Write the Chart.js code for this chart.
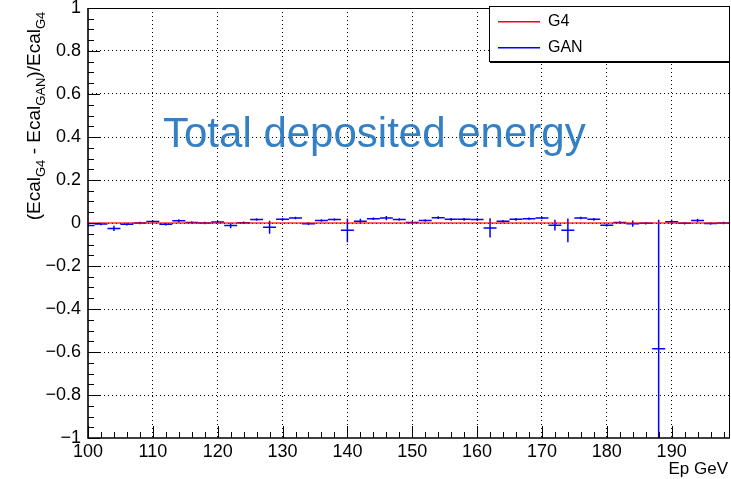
<!DOCTYPE html>
<html>
<head>
<meta charset="utf-8">
<script src="https://cdn.jsdelivr.net/npm/chart.js@4/dist/chart.umd.min.js"></script>
<style>
  html, body { margin: 0; padding: 0; background: #ffffff; }
  #wrap { width: 731px; height: 479px; position: relative; }
</style>
</head>
<body>
<div id="wrap"><canvas id="c" width="731" height="479"></canvas></div>
<script>
// ---- data ----
const binCenters = [100,102,104,106,108,110,112,114,116,118,120,122,124,126,128,130,132,134,136,138,140,142,144,146,148,150,152,154,156,158,160,162,164,166,168,170,172,174,176,178,180,182,184,186,188,190,192,194,196,198];
const binHalfWidth = 1;
const g4Values = [0,0,0,0,0,0,0,0,0,0,0,0,0,0,0,0,0,0,0,0,0,0,0,0,0,0,0,0,0,0,0,0,0,0,0,0,0,0,0,0,0,0,0,0,0,0,0,0,0,0];
const ganValues = [-0.012,-0.005,-0.025,-0.006,0.0,0.007,-0.006,0.010,0.002,0.0,0.005,-0.012,0.001,0.016,-0.020,0.017,0.023,-0.003,0.012,0.016,-0.034,0.008,0.020,0.023,0.016,0.002,0.012,0.025,0.017,0.017,0.016,-0.023,0.008,0.017,0.020,0.023,-0.010,-0.034,0.023,0.017,-0.010,0.002,-0.003,-0.001,-0.585,0.006,-0.001,0.012,-0.002,0.0];
const ganErrors = [0.008,0.006,0.012,0.006,0.006,0.006,0.006,0.008,0.006,0.006,0.006,0.012,0.006,0.006,0.030,0.006,0.006,0.006,0.006,0.006,0.055,0.012,0.006,0.010,0.006,0.006,0.006,0.006,0.006,0.006,0.006,0.045,0.006,0.006,0.006,0.006,0.025,0.055,0.006,0.006,0.006,0.006,0.015,0.006,0.600,0.010,0.006,0.008,0.006,0.006];
const seriesLabels = ["G4", "GAN"];
const seriesColors = ["rgb(255,0,0)", "rgb(0,0,255)"];
const xTickLabels = ["100","110","120","130","140","150","160","170","180","190"];
const yTickLabels = ["\u22121","\u22120.8","\u22120.6","\u22120.4","\u22120.2","0","0.2","0.4","0.6","0.8","1"];
const plotText = "Total deposited energy";
const xTitle = "Ep GeV";

const FONT = '"Liberation Sans", Arial, Helvetica, sans-serif';

const ganData = binCenters.map((x, i) => ({x: x, y: ganValues[i], xerr: binHalfWidth, yerr: ganErrors[i]}));
const g4Data = binCenters.map((x, i) => ({x: x, y: g4Values[i], xerr: binHalfWidth, yerr: 0}));

const errorBarPlugin = {
  id: 'errorBars',
  afterDatasetsDraw(chart) {
    const {ctx, chartArea: a, scales: {x, y}} = chart;
    ctx.save();
    ctx.beginPath();
    ctx.rect(a.left, a.top, a.right - a.left, a.bottom - a.top);
    ctx.clip();
    chart.data.datasets.forEach(ds => {
      ctx.strokeStyle = ds.borderColor;
      ctx.lineWidth = ds.errLineWidth;
      ds.data.forEach(p => {
        const px = x.getPixelForValue(p.x);
        const py = y.getPixelForValue(p.y);
        ctx.beginPath();
        ctx.moveTo(x.getPixelForValue(p.x - p.xerr), py);
        ctx.lineTo(x.getPixelForValue(p.x + p.xerr), py);
        if (p.yerr) {
          ctx.moveTo(px, y.getPixelForValue(p.y + p.yerr));
          ctx.lineTo(px, y.getPixelForValue(p.y - p.yerr));
        }
        ctx.stroke();
      });
    });
    ctx.restore();
  }
};

const decorPlugin = {
  id: 'decor',
  afterDraw(chart) {
    const {ctx, chartArea: a, scales: {x, y}} = chart;
    ctx.save();
    // frame
    ctx.strokeStyle = '#000';
    ctx.lineWidth = 1;
    ctx.beginPath();
    ctx.moveTo(a.left, a.top + 0.5); ctx.lineTo(a.right, a.top + 0.5);
    ctx.moveTo(a.right - 0.5, a.top); ctx.lineTo(a.right - 0.5, a.bottom);
    ctx.stroke();
    ctx.lineWidth = 1.6;
    ctx.beginPath();
    ctx.moveTo(a.left, a.top); ctx.lineTo(a.left, a.bottom);
    ctx.lineTo(a.right, a.bottom);
    ctx.stroke();
    // inward ticks
    ctx.lineWidth = 1;
    ctx.beginPath();
    for (let i = 0; i <= 40; i++) {
      const v = -1 + i * 0.05;
      const py = Math.round(y.getPixelForValue(v)) + 0.5;
      const len = (i % 4 === 0) ? 12 : 6;
      ctx.moveTo(a.left, py); ctx.lineTo(a.left + len, py);
    }
    for (let v = 100; v <= 199; v += 2) {
      const px = Math.round(x.getPixelForValue(v)) + 0.5;
      const len = (v % 10 === 0) ? 12 : 6;
      ctx.moveTo(px, a.bottom); ctx.lineTo(px, a.bottom - len);
    }
    ctx.stroke();

    // big label
    ctx.fillStyle = 'rgb(52,128,196)';
    ctx.font = '42px ' + FONT;
    ctx.textAlign = 'left';
    ctx.textBaseline = 'alphabetic';
    ctx.fillText(plotText, a.left + 75, 147);

    // x title
    ctx.fillStyle = '#000';
    ctx.font = '17px ' + FONT;
    ctx.textAlign = 'right';
    ctx.fillText(xTitle, 728, 474);

    // y title with subscripts
    const parts = [["(Ecal", false], ["G4", true], [" - Ecal", false], ["GAN", true], [")/Ecal", false], ["G4", true]];
    const mainF = '19px ' + FONT, subF = '13px ' + FONT;
    let total = 0;
    parts.forEach(([t, s]) => { ctx.font = s ? subF : mainF; total += ctx.measureText(t).width; });
    ctx.translate(40, 116 + total / 2);
    ctx.rotate(-Math.PI / 2);
    ctx.textAlign = 'left';
    let cx = 0;
    parts.forEach(([t, s]) => {
      ctx.font = s ? subF : mainF;
      ctx.fillText(t, cx, s ? 5 : 0);
      cx += ctx.measureText(t).width;
    });
    ctx.setTransform(1, 0, 0, 1, 0, 0);

    // legend (G4 first, then GAN)
    const lx = 489, ly = 6, lw = 241, lh = 56;
    ctx.fillStyle = '#fff';
    ctx.fillRect(lx, ly, lw, lh);
    ctx.strokeStyle = '#000';
    ctx.lineWidth = 1;
    ctx.strokeRect(lx + 0.5, ly + 0.5, lw - 1, lh - 1);
    ctx.fillStyle = '#000';
    ctx.fillRect(lx + 1, ly + lh - 1, lw - 1, 2);
    seriesLabels.forEach((lab, i) => {
      const yy = ly + 15 + i * 26;
      ctx.fillStyle = seriesColors[i];
      ctx.fillRect(lx + 9, yy, 42, 1.5);
      ctx.fillStyle = '#000';
      ctx.font = '16px ' + FONT;
      ctx.textAlign = 'left';
      ctx.textBaseline = 'middle';
      ctx.fillText(lab, lx + 59, yy + 1);
    });
    ctx.restore();
  }
};

const fmtY = v => {
  const r = Math.round(v * 10) / 10;
  const idx = Math.round((r + 1) / 0.2);
  return yTickLabels[idx] !== undefined ? yTickLabels[idx] : '';
};
const fmtX = v => {
  const idx = Math.round((v - 100) / 10);
  return (Math.abs(v - 100 - idx * 10) < 1e-6 && xTickLabels[idx] !== undefined) ? xTickLabels[idx] : '';
};

const chart = new Chart(document.getElementById('c'), {
  type: 'scatter',
  data: {
    datasets: [
      { label: seriesLabels[1], data: ganData, borderColor: seriesColors[1], backgroundColor: seriesColors[1], pointRadius: 0, showLine: false, errLineWidth: 1.5 },
      { label: seriesLabels[0], data: g4Data, borderColor: seriesColors[0], backgroundColor: seriesColors[0], pointRadius: 0, showLine: false, errLineWidth: 1.2 }
    ]
  },
  options: {
    responsive: false,
    animation: false,
    devicePixelRatio: 1,
    layout: { padding: { top: 8, right: 1, left: 0, bottom: 0 } },
    plugins: { legend: { display: false }, tooltip: { enabled: false } },
    scales: {
      x: {
        type: 'linear', min: 100, max: 199,
        ticks: { stepSize: 10, includeBounds: false, autoSkip: false, maxRotation: 0, color: '#000', padding: 3, font: { family: FONT, size: 18 }, callback: fmtX },
        grid: { drawTicks: false, lineWidth: 1, color: c => (c.tick && (c.tick.value <= 100 || c.tick.value >= 199)) ? 'rgba(0,0,0,0)' : '#000' },
        border: { display: false, dash: [1, 3] },
        afterFit: s => { s.height = 41; s.paddingLeft = 0; s.paddingRight = 0; }
      },
      y: {
        type: 'linear', min: -1, max: 1,
        ticks: { stepSize: 0.2, autoSkip: false, color: '#000', padding: 7, font: { family: FONT, size: 18 }, callback: fmtY },
        grid: { drawTicks: false, lineWidth: 1, color: c => (c.tick && Math.abs(c.tick.value) > 0.99) ? 'rgba(0,0,0,0)' : '#000' },
        border: { display: false, dash: [1, 3] },
        afterFit: s => { s.width = 88; s.paddingTop = 0; s.paddingBottom = 0; }
      }
    }
  },
  plugins: [errorBarPlugin, decorPlugin]
});
</script>
</body>
</html>
